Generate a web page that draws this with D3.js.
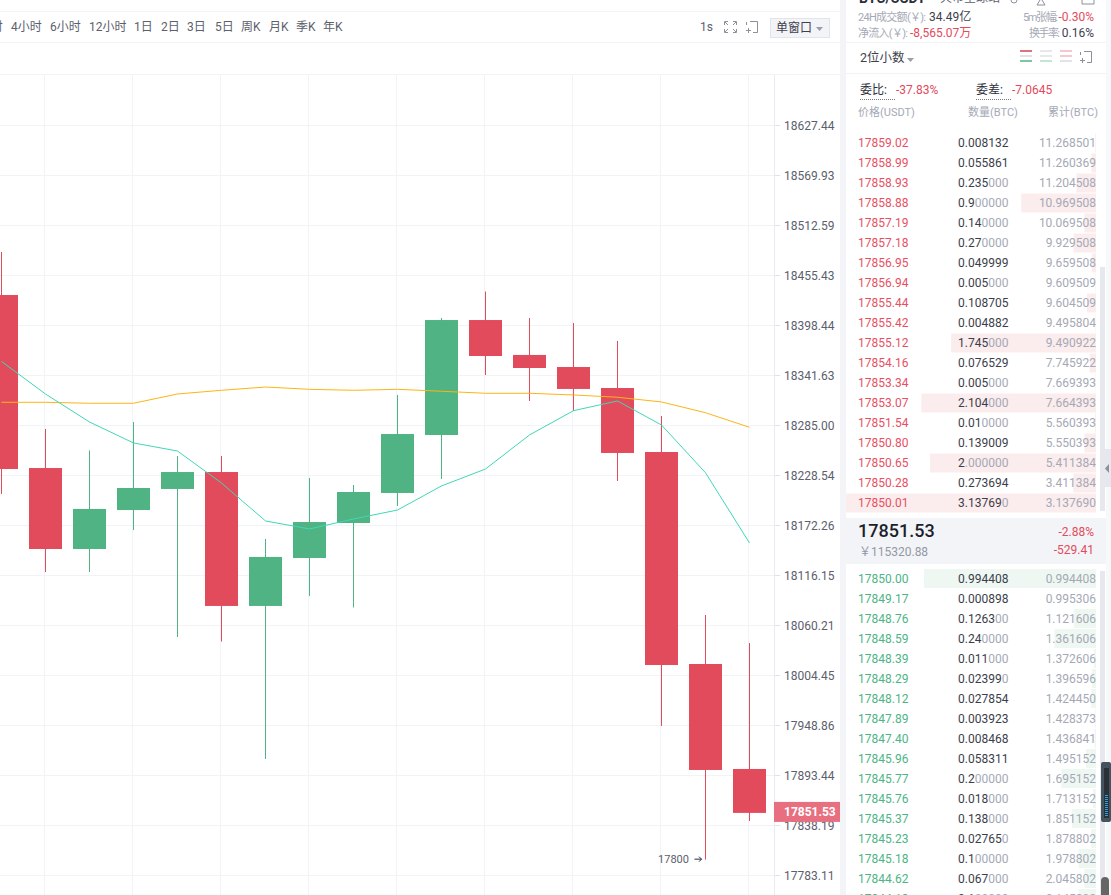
<!DOCTYPE html>
<html>
<head>
<meta charset="utf-8">
<script src="https://cdn.jsdelivr.net/npm/d3@7"></script>
<style>
  html, body { margin: 0; padding: 0; background: #fff; overflow: hidden; }
  svg { display: block; font-family: Roboto, "Noto Sans CJK SC", sans-serif; }
</style>
</head>
<body>
<svg id="page" width="1111" height="895"></svg>
<script>
const periods = ['2小时', '4小时', '6小时', '12小时', '1日', '2日', '3日', '5日', '周K', '月K', '季K', '年K'];

const yTicks = [18627.44, 18569.93, 18512.59, 18455.43, 18398.44, 18341.63, 18285.00, 18228.54,
  18172.26, 18116.15, 18060.21, 18004.45, 17948.86, 17893.44, 17838.19, 17783.11];

const opens = [18432.6, 18236.4, 18145.3, 18189.1, 18212.8, 18231.9, 18081.5, 18135.2, 18174.5,
  18208.3, 18273.7, 18404.1, 18364.4, 18350.7, 18326.9, 18254.5, 18016.7, 17900.1];
const closes = [18235.3, 18145.3, 18190.3, 18213.9, 18231.9, 18081.5, 18136.4, 18175.6, 18209.4,
  18274.8, 18404.1, 18363.2, 18349.6, 18325.8, 18253.4, 18015.6, 17899.0, 17851.53];
const highs = [18481.7, 18280.5, 18256.2, 18288.4, 18250.0, 18250.0, 18156.6, 18225.2, 18217.3,
  18319.0, 18406.4, 18436.6, 18406.4, 18400.7, 18380.3, 18295.2, 18071.4, 18040.1];
const lows = [18207.2, 18119.5, 18119.5, 18166.7, 18046.8, 18041.8, 17911.2, 18092.7, 18079.8,
  18193.7, 18224.0, 18341.6, 18312.2, 18300.9, 18221.8, 17947.8, 17800.0, 17842.6];

const maFast = [18357.0, 18320.1, 18288.4, 18264.7, 18255.6, 18219.5, 18176.8, 18167.8, 18179.0,
  18189.1, 18216.2, 18235.3, 18273.7, 18301.2, 18312.2, 18285.0, 18231.1, 18152.1];
const maSlow = [18310.7, 18310.7, 18309.6, 18309.6, 18320.1, 18324.3, 18328.0, 18325.4, 18324.3,
  18325.4, 18323.2, 18320.9, 18320.9, 18319.0, 18316.4, 18311.1, 18298.9, 18282.4];

const askPrices = ['17859.02', '17858.99', '17858.93', '17858.88', '17857.19', '17857.18', '17856.95',
  '17856.94', '17855.44', '17855.42', '17855.12', '17854.16', '17853.34', '17853.07', '17851.54',
  '17850.80', '17850.65', '17850.28', '17850.01'];
const askAmounts = ['0.008132', '0.055861', '0.235000', '0.900000', '0.140000', '0.270000', '0.049999',
  '0.005000', '0.108705', '0.004882', '1.745000', '0.076529', '0.005000', '2.104000', '0.010000',
  '0.139009', '2.000000', '0.273694', '3.137690'];
const askTotals = ['11.268501', '11.260369', '11.204508', '10.969508', '10.069508', '9.929508', '9.659508',
  '9.609509', '9.604509', '9.495804', '9.490922', '7.745922', '7.669393', '7.664393', '5.560393',
  '5.550393', '5.411384', '3.411384', '3.137690'];

const bidPrices = ['17850.00', '17849.17', '17848.76', '17848.59', '17848.39', '17848.29', '17848.12',
  '17847.89', '17847.40', '17845.96', '17845.77', '17845.76', '17845.37', '17845.23', '17845.18',
  '17844.62', '17844.18'];
const bidAmounts = ['0.994408', '0.000898', '0.126300', '0.240000', '0.011000', '0.023990', '0.027854',
  '0.003923', '0.008468', '0.058311', '0.200000', '0.018000', '0.138000', '0.027650', '0.100000',
  '0.067000', '0.100000'];
const bidTotals = ['0.994408', '0.995306', '1.121606', '1.361606', '1.372606', '1.396596', '1.424450',
  '1.428373', '1.436841', '1.495152', '1.695152', '1.713152', '1.851152', '1.878802', '1.978802',
  '2.045802', '2.145802'];

const RED = '#e24b5c', GREEN = '#50b383', LINE = '#f1f3f7', DARK = '#2b2e3a', MID = '#5c606d', GREY = '#a5a9b5';

const svg = d3.select('#page');
const chartRight = 774;

// -- helpers
function label(parent, x, y, text, color, size, anchor, weight) {
  return parent.append('text')
    .attr('x', x).attr('y', y).attr('dy', '.35em')
    .attr('fill', color).attr('font-size', size || 12)
    .attr('text-anchor', anchor || 'start')
    .attr('font-weight', weight || 400)
    .text(text);
}
function rule(parent, x1, y1, x2, y2, color) {
  return parent.append('line')
    .attr('x1', x1).attr('y1', y1).attr('x2', x2).attr('y2', y2)
    .attr('stroke', color || LINE);
}
function windowIcon(parent, x, y) {
  parent.append('path')
    .attr('d', `M${x + 4} ${y + .5}H${x + 11.5}V${y + 11.5}H${x + 7}M${x + .5} ${y + 4}V${y + 1}M${x} ${y + 9.5}h5M${x + 2.5} ${y + 7}v5`)
    .attr('fill', 'none').attr('stroke', '#8c909c');
}
function triangle(parent, x, y, color) {
  parent.append('path').attr('d', `M${x} ${y}h7l-3.5 4z`).attr('fill', color || '#9a9ea9');
}

// -- chart
const x = d3.scaleLinear().domain([0, opens.length - 1]).range([1.5, 749.5]);
const y = d3.scaleLog().domain([d3.min(yTicks), d3.max(yTicks)]).range([875, 125]);

const grid = svg.append('g');
grid.selectAll('line.h').data(yTicks).enter().append('line')
  .attr('class', 'h')
  .attr('x1', 0).attr('x2', chartRight)
  .attr('y1', d => Math.round(y(d)) + .5).attr('y2', d => Math.round(y(d)) + .5)
  .attr('stroke', LINE);
grid.selectAll('line.v').data(d3.range(1, opens.length, 2)).enter().append('line')
  .attr('class', 'v')
  .attr('x1', d => x(d) - 1).attr('x2', d => x(d) - 1)
  .attr('y1', 74).attr('y2', 895)
  .attr('stroke', LINE);

const candles = svg.append('g');
opens.forEach((open, i) => {
  const color = closes[i] < open ? RED : GREEN;
  candles.append('line')
    .attr('x1', x(i)).attr('x2', x(i))
    .attr('y1', y(highs[i])).attr('y2', y(lows[i]))
    .attr('stroke', color);
  candles.append('rect')
    .attr('x', x(i) - 16.5).attr('width', 33)
    .attr('y', y(Math.max(open, closes[i])))
    .attr('height', Math.abs(y(open) - y(closes[i])))
    .attr('fill', color);
});

const maLine = d3.line().x((d, i) => x(i)).y(d => y(d));
svg.append('path').attr('d', maLine(maSlow)).attr('fill', 'none').attr('stroke', '#fdb515').attr('stroke-width', 1);
svg.append('path').attr('d', maLine(maFast)).attr('fill', 'none').attr('stroke', '#3fd8b6').attr('stroke-width', 1);

const yAxis = d3.axisRight(y).tickValues(yTicks).tickFormat(d3.format('.2f')).tickSize(6).tickPadding(4);
const axis = svg.append('g').attr('transform', `translate(${chartRight}, 0)`).call(yAxis);
axis.select('.domain').remove();
axis.selectAll('line').attr('stroke', '#dfe2e8');
axis.selectAll('text').attr('fill', MID).attr('font-size', 12).attr('font-family', 'Roboto').attr('dy', '.36em');
rule(svg, chartRight + .5, 74, chartRight + .5, 895, '#e9ebf0');

// last price tag
const last = closes[closes.length - 1];
svg.append('rect').attr('x', chartRight).attr('y', y(last) - 11).attr('width', 66).attr('height', 20).attr('fill', '#e86f7f');
label(svg, 784, y(last) - 1, d3.format('.2f')(last), '#fff', 12, 'start', 700);

// low annotation
const lowIndex = d3.minIndex(lows);
label(svg, x(lowIndex) - 16.5, y(lows[lowIndex]) - 1, '17800', MID, 11, 'end');
svg.append('path')
  .attr('d', `M${x(lowIndex) - 11} ${y(lows[lowIndex]) - .5}h7m-2.5 -2.5l2.5 2.5l-2.5 2.5`)
  .attr('fill', 'none').attr('stroke', DARK);

// -- toolbar
rule(svg, 0, 11.5, 840, 11.5);
rule(svg, 0, 42.5, 840, 42.5);
rule(svg, 0, 74.5, 840, 74.5);
const periodStarts = [-28, 11, 50, 89, 134, 161, 187, 215, 241, 269, 296, 323];
periods.forEach((p, i) => label(svg, periodStarts[i], 26.5, p, MID, 12));
label(svg, 700, 27, '1s', MID, 12);
svg.append('path')
  .attr('d', 'M724.5 25v-3.5H728M736.5 25v-3.5H733M724.5 29v3.5H728M736.5 29v3.5H733M725 22l3 3M736 22l-3 3M725 32l3-3M736 32l-3-3')
  .attr('fill', 'none').attr('stroke', '#8c909c');
windowIcon(svg, 746, 21);
svg.append('rect').attr('x', 770.5).attr('y', 18.5).attr('width', 59).attr('height', 19)
  .attr('fill', '#f3f4f7').attr('stroke', '#e3e5ea');
label(svg, 776, 28, '单窗口', '#3e414d', 12);
triangle(svg, 816, 27);

// -- order book panel
svg.append('rect').attr('x', 840).attr('y', 0).attr('width', 6).attr('height', 895).attr('fill', '#f3f4f8');
svg.append('rect').attr('x', 1106).attr('y', 0).attr('width', 5).attr('height', 895).attr('fill', '#f7f8fa');

label(svg, 859, -2, 'BTC/USDT', DARK, 14, 'start', 700);
label(svg, 940, -2, '火币全球站', MID, 12);
svg.append('path').attr('d', 'M1011 0a3 3 0 0 0 6 0M1040 0l-3 5h8l-3-5M1082 0v4h12V0').attr('fill', 'none').attr('stroke', '#8c909c');

// these labels carry a wide yen sign, so their widths are pinned to the reference
label(svg, 858, 17, '24H成交额(￥):', GREY, 11).attr('textLength', 68);
label(svg, 929, 17, '34.49亿', '#3e414d', 12);
label(svg, 1023, 17, '5m张幅:', GREY, 11).attr('textLength', 35);
label(svg, 1094, 17, '-0.30%', RED, 12, 'end');
label(svg, 858, 33, '净流入(￥):', GREY, 11).attr('textLength', 50);
label(svg, 910, 33, '-8,565.07万', RED, 12);
label(svg, 1029, 33, '换手率:', GREY, 11).attr('textLength', 31);
label(svg, 1094, 33, '0.16%', '#3e414d', 12, 'end');
rule(svg, 846, 42.5, 1106, 42.5);
rule(svg, 846, 73.5, 1106, 73.5);

label(svg, 860, 57.5, '2位小数', '#3e414d', 12.5);
triangle(svg, 907, 58);
const depthIcons = [
  [1020, '#e2717f', '#dfe1e6', '#7cc7a1'],
  [1040, '#e6e8ec', '#e6e8ec', '#c3e5d3'],
  [1060, '#f6c7cd', '#f6c7cd', '#e1e3e9']
];
depthIcons.forEach(d => {
  [0, 1, 2].forEach(k => rule(svg, d[0], 51 + k * 5, d[0] + 12, 51 + k * 5, d[k + 1]).attr('stroke-width', 2));
});
windowIcon(svg, 1080, 51);

label(svg, 860, 90, '委比:', DARK, 12);
label(svg, 896, 90, '-37.83%', RED, 12);
label(svg, 976, 90, '委差:', DARK, 12);
label(svg, 1012, 90, '-7.0645', RED, 12);
rule(svg, 860, 99.5, 896, 99.5, '#777').attr('stroke-dasharray', '1 1');
rule(svg, 976, 99.5, 1012, 99.5, '#777').attr('stroke-dasharray', '1 1');
label(svg, 858, 112, '价格(USDT)', GREY, 11);
label(svg, 968, 112, '数量(BTC)', GREY, 11);
label(svg, 1098, 112, '累计(BTC)', GREY, 11, 'end');

// scroll tracks sit under the book rows
svg.append('rect').attr('x', 1100).attr('y', 267).attr('width', 5).attr('height', 244).attr('fill', '#e6e8ee');
svg.append('rect').attr('x', 1100).attr('y', 571).attr('width', 5).attr('height', 324).attr('fill', '#e6e8ee');

const bookLeft = 846, bookRight = 1096;
const askWidth = d3.scaleLinear().domain([0, 1]).range([0, 83]);
const bidWidth = d3.scaleLinear().domain([0, 1]).range([0, 173]);

function drawBook(prices, amounts, totals, rowY, width, priceColor, barColor) {
  const g = svg.append('g');
  prices.forEach((price, i) => {
    const cy = rowY(i);
    const w = Math.min(width(+amounts[i]), bookRight - bookLeft);
    g.append('rect')
      .attr('x', bookRight - w).attr('y', cy - 9.5)
      .attr('width', w).attr('height', 19)
      .attr('fill', barColor);
    label(g, 858, cy, price, priceColor, 12);
    const m = amounts[i].match(/^(.*?)(\.?0*)$/);
    const t = label(g, 958, cy, '', DARK, 12);
    t.append('tspan').attr('fill', '#3b3e4a').text(m[1]);
    t.append('tspan').attr('fill', GREY).text(m[2]);
    label(g, bookRight, cy, totals[i], GREY, 12, 'end');
  });
}
const askY = d3.scaleLinear().domain([0, 18]).range([143, 503]);
const bidY = d3.scaleLinear().domain([0, 15]).range([578.5, 878.5]);
drawBook(askPrices, askAmounts, askTotals, askY, askWidth, '#e8505f', '#fbeced');
drawBook(bidPrices, bidAmounts, bidTotals, bidY, bidWidth, '#4db585', '#eef7f2');

// current price block
svg.append('rect').attr('x', 846).attr('y', 518).attr('width', 260).attr('height', 46).attr('fill', '#f3f4f7');
label(svg, 858, 531, d3.format('.2f')(last), '#1c1f2b', 18, 'start', 500);
label(svg, 859, 552, '￥115320.88', '#9498a4', 12);
label(svg, 1094, 532, '-2.88%', RED, 12, 'end');
label(svg, 1094, 549.5, '-529.41', RED, 12, 'end');

// side handle and browser widgets
svg.append('rect').attr('x', 1104).attr('y', 449).attr('width', 7).attr('height', 38).attr('fill', '#e6e8ee');
svg.append('path').attr('d', 'M1109 464v9l-4-4.5z').attr('fill', '#8c909c');
svg.append('rect').attr('x', 1101).attr('y', 877).attr('width', 8).attr('height', 24).attr('rx', 4).attr('fill', '#666');
svg.append('rect').attr('x', 1101).attr('y', 762).attr('width', 10).attr('height', 60).attr('rx', 2).attr('fill', '#44535f');
svg.append('rect').attr('x', 1104).attr('y', 768).attr('width', 5).attr('height', 50).attr('fill', '#2b3036');
rule(svg, 1106.5, 795, 1106.5, 816, '#2f9fdc').attr('stroke-width', 3).attr('stroke-dasharray', '1 1');
</script>
</body>
</html>
